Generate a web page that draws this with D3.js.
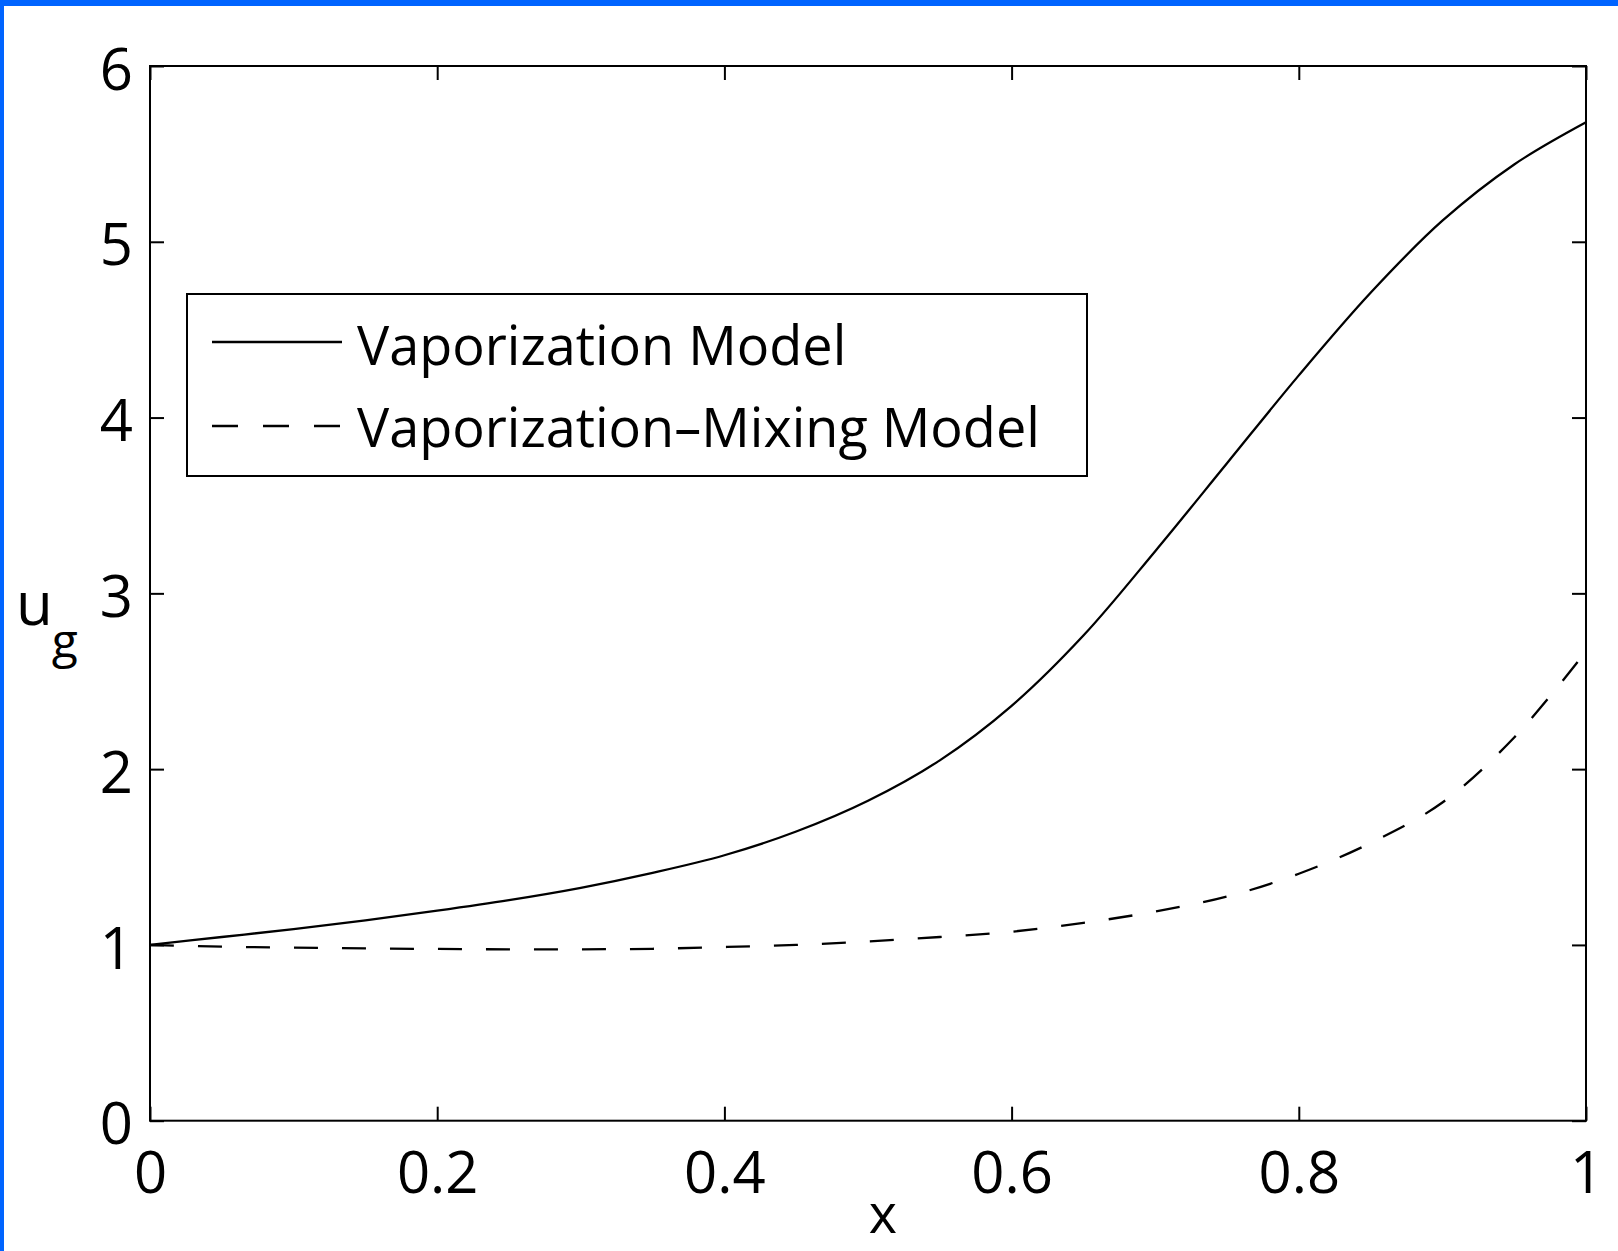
<!DOCTYPE html>
<html>
<head>
<meta charset="utf-8">
<script src="https://cdn.jsdelivr.net/npm/d3@7"></script>
<style>
    html, body { margin: 0; padding: 0; background: #fff; }
    svg { display: block; }
    text { font-family: "Open Sans", "Noto Sans", sans-serif; fill: #000; }
</style>
</head>
<body>
<div id="app"></div>
<script>
// values
var xValues = [0, 0.05, 0.1, 0.15, 0.2, 0.25, 0.3, 0.35, 0.4, 0.45, 0.5,
    0.55, 0.6, 0.65, 0.7, 0.75, 0.8, 0.85, 0.9, 0.95, 1];
var vaporization = [1.00, 1.045, 1.09, 1.14, 1.195, 1.255, 1.325, 1.41, 1.51, 1.645, 1.82,
    2.05, 2.36, 2.76, 3.24, 3.74, 4.24, 4.71, 5.12, 5.44, 5.68];
var vaporizationMixing = [1.00, 0.99, 0.985, 0.98, 0.977, 0.975, 0.975, 0.978, 0.988, 1.0, 1.02,
    1.045, 1.075, 1.125, 1.19, 1.275, 1.405, 1.58, 1.81, 2.18, 2.67];
var seriesNames = ['Vaporization Model', 'Vaporization\u2013Mixing Model'];
var xTicks = [0, 0.2, 0.4, 0.6, 0.8, 1];
var xTickLabels = ['0', '0.2', '0.4', '0.6', '0.8', '1'];
var yTicks = [0, 1, 2, 3, 4, 5, 6];
var yTickLabels = ['0', '1', '2', '3', '4', '5', '6'];

var width = 1618, height = 1251;
var plot = { left: 150, right: 1586, top: 66, bottom: 1120.7 };
var tickLen = 14;

var svg = d3.select('#app')
    .append('svg')
    .attr('width', width)
    .attr('height', height);

// blue frame on top and left edges
svg.append('rect').attr('x', 0).attr('y', 0).attr('width', width).attr('height', 6).attr('fill', '#0064ff');
svg.append('rect').attr('x', 0).attr('y', 0).attr('width', 4).attr('height', height).attr('fill', '#0064ff');

var x = d3.scaleLinear().domain([0, 1]).range([plot.left, plot.right]);
var y = d3.scaleLinear().domain([0, 6]).range([plot.bottom, plot.top]);

function styleAxis(g) {
    g.select('.domain').remove();
    g.selectAll('.tick line').attr('stroke', '#000').attr('stroke-width', 2);
    g.selectAll('.tick text').attr('font-family', '"Open Sans", sans-serif').attr('font-size', 58).attr('fill', '#000');
}

svg.append('g')
    .attr('transform', 'translate(0,' + plot.bottom + ')')
    .call(d3.axisBottom(x).tickValues(xTicks).tickSizeInner(-tickLen).tickSizeOuter(0)
        .tickPadding(31).tickFormat(function(d, i) { return xTickLabels[i]; }))
    .call(styleAxis);

svg.append('g')
    .attr('transform', 'translate(0,' + plot.top + ')')
    .call(d3.axisTop(x).tickValues(xTicks).tickSizeInner(-tickLen).tickSizeOuter(0).tickFormat(''))
    .call(styleAxis);

svg.append('g')
    .attr('transform', 'translate(' + plot.left + ',0)')
    .call(d3.axisLeft(y).tickValues(yTicks).tickSizeInner(-tickLen).tickSizeOuter(0)
        .tickPadding(17).tickFormat(function(d, i) { return yTickLabels[i]; }))
    .call(styleAxis)
    .selectAll('.tick text').attr('dy', '0.4em');

svg.append('g')
    .attr('transform', 'translate(' + plot.right + ',0)')
    .call(d3.axisRight(y).tickValues(yTicks).tickSizeInner(-tickLen).tickSizeOuter(0).tickFormat(''))
    .call(styleAxis);

// the curves
var line = d3.line()
    .x(function(d) { return x(d[0]); })
    .y(function(d) { return y(d[1]); })
    .curve(d3.curveCatmullRom.alpha(0.5));

svg.append('path')
    .datum(d3.zip(xValues, vaporization))
    .attr('d', line)
    .attr('fill', 'none')
    .attr('stroke', '#000')
    .attr('stroke-width', 2.3);

svg.append('path')
    .datum(d3.zip(xValues, vaporizationMixing))
    .attr('d', line)
    .attr('fill', 'none')
    .attr('stroke', '#000')
    .attr('stroke-width', 2.3)
    .attr('stroke-dasharray', '24 24');

// plot frame
svg.append('rect')
    .attr('x', plot.left).attr('y', plot.top)
    .attr('width', plot.right - plot.left).attr('height', plot.bottom - plot.top)
    .attr('fill', 'none').attr('stroke', '#000').attr('stroke-width', 2);

// axis labels
svg.append('text')
    .attr('x', 883).attr('y', 1233)
    .attr('text-anchor', 'middle')
    .attr('font-size', 54)
    .text('x');

var yLabel = svg.append('text').attr('x', 16).attr('y', 625).attr('font-size', 60);
yLabel.append('tspan').text('u');
yLabel.append('tspan').attr('dx', -1).attr('dy', 33).attr('font-size', 48).text('g');

// legend
var legend = svg.append('g');
legend.append('rect')
    .attr('x', 187).attr('y', 294).attr('width', 900).attr('height', 182)
    .attr('fill', '#fff').attr('stroke', '#000').attr('stroke-width', 2);

var rows = [
    { name: seriesNames[0], dash: null, lineY: 342, textY: 365 },
    { name: seriesNames[1], dash: '26 25', lineY: 426, textY: 447 }
];
rows.forEach(function(r) {
    legend.append('line')
        .attr('x1', 212).attr('x2', 342).attr('y1', r.lineY).attr('y2', r.lineY)
        .attr('stroke', '#000').attr('stroke-width', 2.3)
        .attr('stroke-dasharray', r.dash);
    legend.append('text')
        .attr('x', 357).attr('y', r.textY)
        .attr('font-size', 54)
        .text(r.name);
});
</script>
</body>
</html>
